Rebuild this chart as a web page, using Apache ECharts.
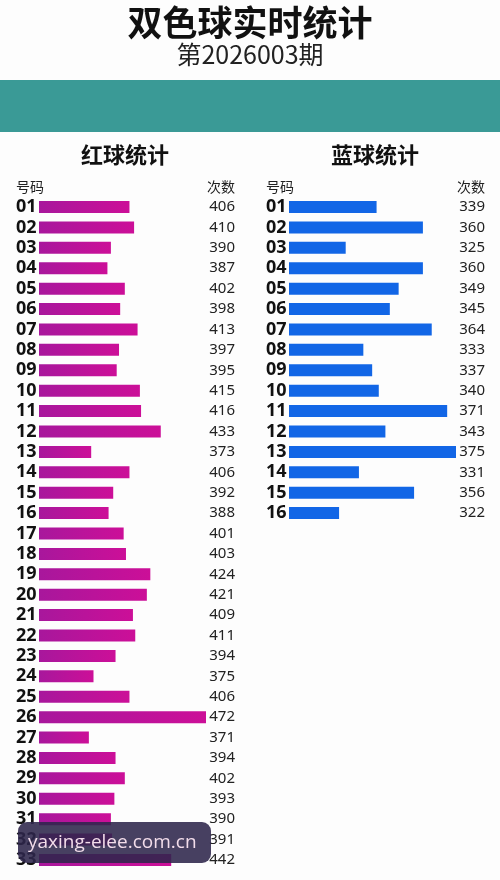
<!DOCTYPE html>
<html><head><meta charset="utf-8">
<script src="https://cdn.jsdelivr.net/npm/echarts@6/dist/echarts.min.js"></script>
<style>html,body{margin:0;padding:0;background:#fdfdfd}#c{width:500px;height:880px}</style>
</head><body><div id="c"></div>
<script>
const titleText = '双色球实时统计';
const issueText = '第2026003期';
const redTitle = '红球统计';
const blueTitle = '蓝球统计';
const colHeadNum = '号码';
const colHeadCount = '次数';
const redNumbers = ['01','02','03','04','05','06','07','08','09','10','11','12','13','14','15','16','17','18','19','20','21','22','23','24','25','26','27','28','29','30','31','32','33'];
const redCounts = [406,410,390,387,402,398,413,397,395,415,416,433,373,406,392,388,401,403,424,421,409,411,394,375,406,472,371,394,402,393,390,391,442];
const blueNumbers = ['01','02','03','04','05','06','07','08','09','10','11','12','13','14','15','16'];
const blueCounts = [339,360,325,360,349,345,364,333,337,340,371,343,375,331,356,322];
const watermark = 'yaxing-elee.com.cn';

const FONT = '"Noto Sans CJK SC", "Noto Sans", sans-serif';
const rowH = 20.406;
const top0 = 196.8;

const chart = echarts.init(document.getElementById('c'));
const numLabel = {interval:0, color:'#111', fontSize:18, fontWeight:'bold', fontFamily:'"Noto Sans", sans-serif', align:'left', margin:23};
const valLabel = (m)=>({interval:0, color:'#222', fontSize:15, fontFamily:'"Noto Sans", sans-serif', align:'right', margin:m});
const hidden = {show:false};

chart.setOption({
  backgroundColor:'#fdfdfd',
  animation:false,
  graphic:[
    {type:'rect', shape:{x:0,y:80,width:500,height:52}, style:{fill:'#3a9a96'}},
    {type:'text', x:250, y:23, style:{text:titleText, font:'bold 35px '+FONT, fill:'#111', align:'center', verticalAlign:'middle'}},
    {type:'text', x:250, y:54, style:{text:issueText, font:'25px '+FONT, fill:'#222', align:'center', verticalAlign:'middle'}},
    {type:'text', x:125, y:155, style:{text:redTitle, font:'bold 22px '+FONT, fill:'#111', align:'center', verticalAlign:'middle'}},
    {type:'text', x:375, y:155, style:{text:blueTitle, font:'bold 22px '+FONT, fill:'#111', align:'center', verticalAlign:'middle'}},
    {type:'text', x:16, y:187, style:{text:colHeadNum, font:'14px '+FONT, fill:'#222', align:'left', verticalAlign:'middle'}},
    {type:'text', x:235, y:187, style:{text:colHeadCount, font:'14px '+FONT, fill:'#222', align:'right', verticalAlign:'middle'}},
    {type:'text', x:266, y:187, style:{text:colHeadNum, font:'14px '+FONT, fill:'#222', align:'left', verticalAlign:'middle'}},
    {type:'text', x:485, y:187, style:{text:colHeadCount, font:'14px '+FONT, fill:'#222', align:'right', verticalAlign:'middle'}},
    {type:'rect', z:100, shape:{x:18,y:822,width:193,height:41,r:9}, style:{fill:'rgba(45,38,75,0.88)'}},
    {type:'text', z:101, x:28, y:843, style:{text:watermark, font:'19px "Open Sans", "Noto Sans", sans-serif', fill:'#f2dcea', align:'left', verticalAlign:'middle'}}
  ],
  grid:[
    {left:39, top:top0, width:167, height:rowH*redNumbers.length},
    {left:289, top:top0, width:167, height:rowH*blueNumbers.length}
  ],
  xAxis:[
    {gridIndex:0, type:'value', min:328, max:472, show:false},
    {gridIndex:1, type:'value', min:299.3, max:375, show:false}
  ],
  yAxis:[
    {gridIndex:0, type:'category', inverse:true, data:redNumbers, axisLine:hidden, axisTick:hidden, splitLine:hidden, axisLabel:numLabel},
    {gridIndex:0, type:'category', inverse:true, position:'right', data:redCounts.map(String), axisLine:hidden, axisTick:hidden, splitLine:hidden, axisLabel:valLabel(29)},
    {gridIndex:1, type:'category', inverse:true, data:blueNumbers, axisLine:hidden, axisTick:hidden, splitLine:hidden, axisLabel:numLabel},
    {gridIndex:1, type:'category', inverse:true, position:'right', data:blueCounts.map(String), axisLine:hidden, axisTick:hidden, splitLine:hidden, axisLabel:valLabel(29)}
  ],
  series:[
    {type:'bar', xAxisIndex:0, yAxisIndex:0, data:redCounts, barWidth:12,
     itemStyle:{color:new echarts.graphic.LinearGradient(0,0,1,0,[{offset:0,color:'#a8179c'},{offset:1,color:'#cc0f98'}])}},
    {type:'bar', xAxisIndex:1, yAxisIndex:2, data:blueCounts, barWidth:12,
     itemStyle:{color:'#1266e6'}}
  ]
});
</script></body></html>
